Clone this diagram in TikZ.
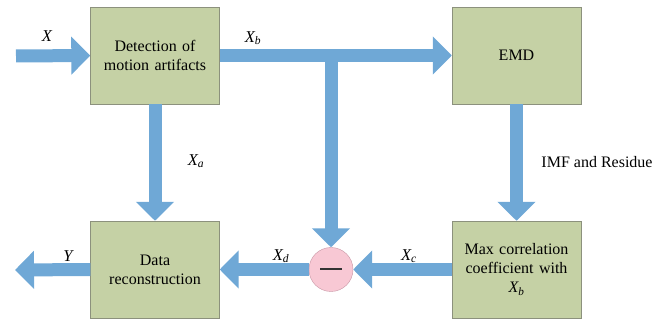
\documentclass[tikz,border=0pt]{standalone}
\usepackage{fontspec}
\setmainfont{Liberation Serif}
\usepackage{tikz}
\usetikzlibrary{arrows.meta}
\definecolor{boxgreen}{RGB}{197,209,165}
\definecolor{boxline}{RGB}{140,145,125}
\definecolor{pipeblue}{RGB}{111,168,214}
\definecolor{subpink}{RGB}{248,200,212}
\definecolor{subline}{RGB}{200,150,165}
\tikzstyle{block} = [rectangle, draw=boxline, fill=boxgreen, text width=124pt,
    align=center, minimum width=129pt, minimum height=97pt, inner sep=0pt,
    font=\fontsize{16}{19}\selectfont]
\tikzstyle{minus} = [circle, draw=subline, fill=subpink, minimum size=44pt, inner sep=0pt]
\tikzstyle{pipe} = [draw=pipeblue, line width=13pt, -{Triangle[width=37pt,length=19pt]}]
\tikzstyle{lbl} = [font=\fontsize{16.5}{19}\selectfont\itshape, inner sep=0pt]
\newcommand{\sig}[1]{X\textsubscript{#1}}

\begin{document}
\begin{tikzpicture}[x=1pt, y=-1pt, node distance = 100pt]
    \useasboundingbox (0,0) rectangle (664,320);
    % Place nodes
    \node [block] at (155,55.5) (detect) {Detection of\\motion artifacts};
    \node [block, right of=detect, node distance=361.5pt] (emd) {EMD};
    \node [block, below of=detect, node distance=214pt] (recon) {Data\\reconstruction};
    \node [block, right of=recon, node distance=361.5pt] (maxcorr) {Max correlation\\coefficient with\\\textit{\sig{b}}};
    \node [minus, right of=recon, node distance=176pt] (sub) {};
    \coordinate (xin) at (16,56);
    \coordinate (yout) at (15,270);
    \coordinate (tap) at (sub |- detect.east);

    % Labels
    \node [lbl] at (47,36) (lx) {X};
    \node [lbl] at (253,38) (lxb) {\sig{b}};
    \node [lbl] at (196,161) (lxa) {\sig{a}};
    \node [lbl] at (68,256) (ly) {Y};
    \node [lbl] at (281,256) (lxd) {\sig{d}};
    \node [lbl] at (409,256) (lxc) {\sig{c}};
    \node [lbl, font=\fontsize{16}{19}\selectfont] at (597,162) (limf) {IMF and Residue};

    \path [pipe] (xin) -- (detect.west);
    \path [pipe] (detect.east) -- (emd.west);
    \path [pipe] (tap) -- (sub.north);
    \path [pipe] (detect.south) -- (recon.north);
    \path [pipe] (emd.south) -- (maxcorr.north);
    \path [pipe] (maxcorr.west) -- (sub.east);
    \path [pipe] (sub.west) -- (recon.east);
    \path [pipe] (recon.west) -- (yout);
    \draw [line width=2pt, black!80] ([xshift=-11pt]sub.center) -- ([xshift=11pt]sub.center);
\end{tikzpicture}
\end{document}
